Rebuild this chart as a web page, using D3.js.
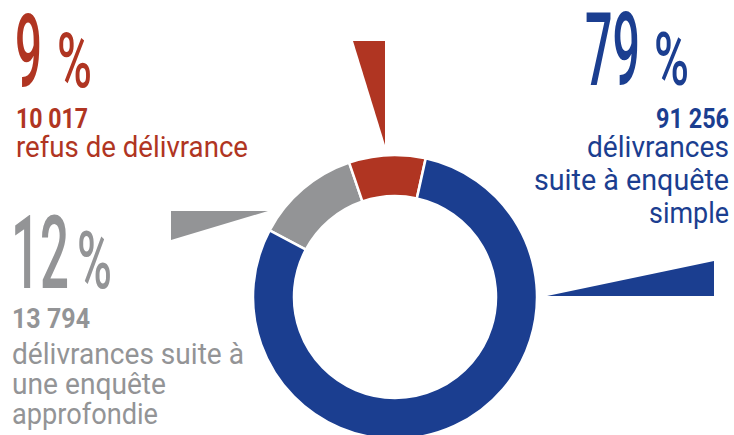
<!DOCTYPE html>
<html lang="fr">
<head>
    <meta charset="UTF-8">
    <title>delivrances</title>
    <style>
        body { margin: 0; background: #fff; }
        svg { display: block; font-family: Roboto, "Liberation Sans", sans-serif; }
    </style>
</head>
<body>
    <script src="https://cdn.jsdelivr.net/npm/d3@7/dist/d3.min.js"></script>
    <script>
        // data, in ring order (clockwise from the grey slice)
        var categories = ["approfondie", "refus", "simple"];
        var counts = [13794, 10017, 91256];
        var percents = ["12", "9", "79"];
        var countLabels = ["13 794", "10 017", "91 256"];
        var descriptions = [
            ["délivrances suite à", "une enquête", "approfondie"],
            ["refus de délivrance"],
            ["délivrances", "suite à enquête", "simple"]
        ];
        var colors = ["#939496", "#b03522", "#1b3e90"];

        var width = 734;
        var height = 435;
        var cx = 395, cy = 297;
        var outerRadius = 142;
        var innerRadius = 101;

        var svg = d3.select("body")
                    .append("svg")
                    .attr("width", width)
                    .attr("height", height);

        var pie = d3.pie()
                    .sort(null)
                    .startAngle(-62 * Math.PI / 180)
                    .endAngle(298 * Math.PI / 180);
        var piedata = pie(counts);

        var arc = d3.arc()
                    .innerRadius(innerRadius)
                    .outerRadius(outerRadius);

        svg.append("g")
           .attr("transform", "translate(" + cx + "," + cy + ")")
           .selectAll("path")
           .data(piedata)
           .enter()
           .append("path")
           .attr("fill", (d, i) => colors[i])
           .attr("stroke", "#fff")
           .attr("stroke-width", 2.5)
           .attr("d", arc);

        // pointer wedges and label placement
        var layout = [
            { wedge: [[171, 211], [268, 211], [171, 240]],
              anchor: "start", x: 12, bigX: 11, bigY: 288, bigW: 58, pctX: 77, pctW: 35, pctSize: 80,
              countY: 328, countW: 78, lineY: 364, lineGap: 30, lineW: [232, 154, 146] },
            { wedge: [[353, 41], [385, 41], [385, 145]],
              anchor: "start", x: 16, bigX: 15, bigY: 87, bigW: 27, pctX: 57, pctW: 35, pctSize: 76,
              countY: 128, countW: 72, lineY: 157, lineGap: 33, lineW: [232] },
            { wedge: [[547, 296], [714, 296], [714, 261]],
              anchor: "end", x: 729, bigX: 585, bigY: 85, bigW: 55, pctX: 654, pctW: 35, pctSize: 74,
              countY: 128, countW: 73, lineY: 157, lineGap: 33, lineW: [142, 195, 80] }
        ];

        layout.forEach(function (L, i) {
            svg.append("path")
               .attr("d", d3.line()(L.wedge) + "Z")
               .attr("fill", colors[i]);

            var g = svg.append("g").attr("fill", colors[i]);

            // big percent figure
            g.append("text")
             .attr("x", L.bigX)
             .attr("y", L.bigY)
             .attr("font-size", 102)
             .attr("font-weight", 500)
             .attr("textLength", L.bigW)
             .attr("lengthAdjust", "spacingAndGlyphs")
             .text(percents[i]);
            g.append("text")
             .attr("x", L.pctX)
             .attr("y", L.bigY)
             .attr("font-size", L.pctSize)
             .attr("font-weight", 500)
             .attr("textLength", L.pctW)
             .attr("lengthAdjust", "spacingAndGlyphs")
             .text("%");

            g.append("text")
             .attr("x", L.x)
             .attr("y", L.countY)
             .attr("text-anchor", L.anchor)
             .attr("font-size", 28)
             .attr("font-weight", "bold")
             .attr("textLength", L.countW)
             .attr("lengthAdjust", "spacingAndGlyphs")
             .text(countLabels[i]);

            descriptions[i].forEach(function (line, j) {
                g.append("text")
                 .attr("x", L.x)
                 .attr("y", L.lineY + j * L.lineGap)
                 .attr("text-anchor", L.anchor)
                 .attr("font-size", 30)
                 .attr("textLength", L.lineW[j])
                 .attr("lengthAdjust", "spacingAndGlyphs")
                 .text(line);
            });
        });
    </script>
</body>
</html>
